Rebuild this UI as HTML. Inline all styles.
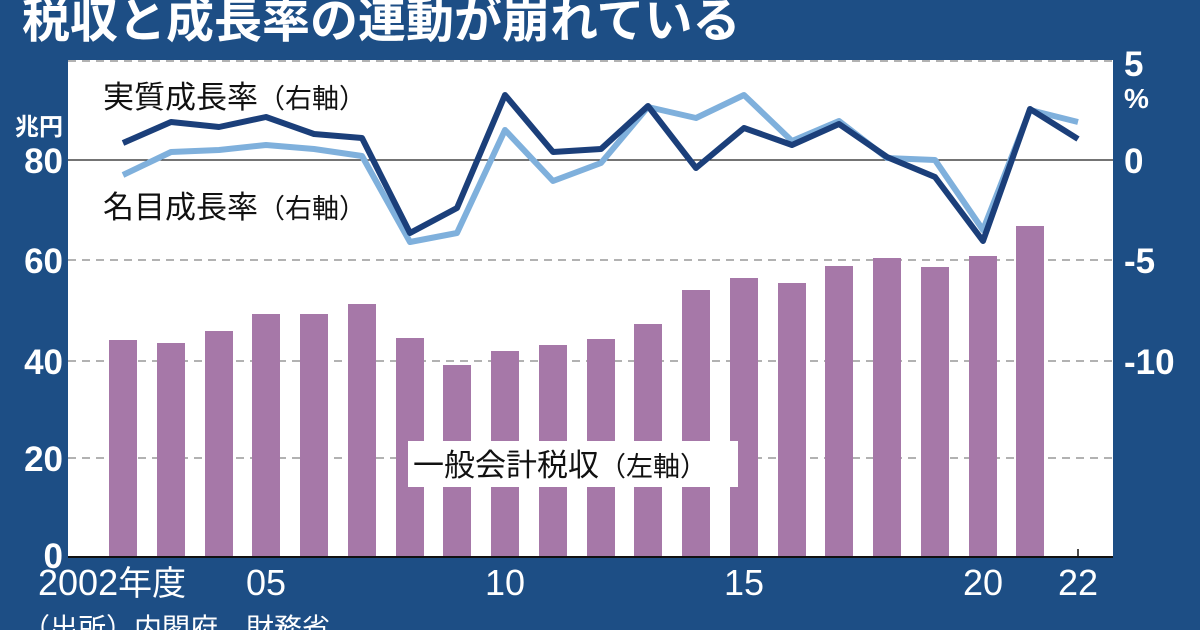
<!DOCTYPE html>
<html><head><meta charset="utf-8"><style>
body{margin:0;width:1200px;height:630px;overflow:hidden;background:#1d4e85;font-family:"Liberation Sans","Noto Sans CJK JP",sans-serif;}
</style></head><body>
<svg width="1200" height="630" xmlns="http://www.w3.org/2000/svg" style="position:absolute;left:0;top:0">
<rect width="1200" height="630" fill="#1d4e85"/>
<text x="22" y="37" fill="#fff" font-size="48" font-weight="bold" font-family="Noto Sans CJK JP,sans-serif">税収と成長率の連動が崩れている</text>
<rect x="68" y="60" width="1045" height="497" fill="#fff"/>
<g stroke="#999" stroke-width="1.5" stroke-dasharray="8,6">
<line x1="68" y1="61" x2="1113" y2="61"/>
<line x1="68" y1="260" x2="1113" y2="260"/>
<line x1="68" y1="361" x2="1113" y2="361"/>
<line x1="68" y1="458" x2="1113" y2="458"/>
</g>
<line x1="68" y1="160" x2="1113" y2="160" stroke="#222" stroke-width="1.2"/>
<g fill="#a678a8">
<rect x="109" y="340" width="28" height="217"/>
<rect x="157" y="343" width="28" height="214"/>
<rect x="205" y="331" width="28" height="226"/>
<rect x="252" y="314" width="28" height="243"/>
<rect x="300" y="314" width="28" height="243"/>
<rect x="348" y="304" width="28" height="253"/>
<rect x="396" y="338" width="28" height="219"/>
<rect x="443" y="365" width="28" height="192"/>
<rect x="491" y="351" width="28" height="206"/>
<rect x="539" y="345" width="28" height="212"/>
<rect x="587" y="339" width="28" height="218"/>
<rect x="634" y="324" width="28" height="233"/>
<rect x="682" y="290" width="28" height="267"/>
<rect x="730" y="278" width="28" height="279"/>
<rect x="778" y="283" width="28" height="274"/>
<rect x="825" y="266" width="28" height="291"/>
<rect x="873" y="258" width="28" height="299"/>
<rect x="921" y="267" width="28" height="290"/>
<rect x="969" y="256" width="28" height="301"/>
<rect x="1016" y="226" width="28" height="331"/>
</g>
<line x1="68" y1="557" x2="1113" y2="557" stroke="#111" stroke-width="2"/>
<line x1="1078" y1="549" x2="1078" y2="557" stroke="#111" stroke-width="1.5"/>
<polyline fill="none" stroke="#7fb0dc" stroke-width="6" stroke-linejoin="round" points="123,175 171,152 219,150 266,145 314,149 362,156 410,242 457,233 505,130 553,181 601,163 648,107 696,118 744,95 792,141 839,121 887,158 935,160 983,230 1030,110 1078,122"/>
<polyline fill="none" stroke="#1b3f7a" stroke-width="6" stroke-linejoin="round" points="123,143 171,122 219,127 266,117 314,134 362,138 410,233 457,208 505,95 553,152 601,149 648,106 696,168 744,128 792,145 839,124 887,157 935,177 983,241 1030,109 1078,139"/>
<g font-family="Noto Sans CJK JP,sans-serif" font-size="31" fill="#111">
<text x="103" y="108">実質成長率<tspan font-size="27">（右軸）</tspan></text>
<text x="103" y="218">名目成長率<tspan font-size="27">（右軸）</tspan></text>
</g>
<rect x="408" y="441" width="330" height="46" fill="#fff"/>
<text x="413" y="476" font-family="Noto Sans CJK JP,sans-serif" font-size="31" fill="#111">一般会計税収<tspan font-size="27">（左軸）</tspan></text>
<g fill="#fff" font-weight="bold" font-size="35" text-anchor="end" font-family="Liberation Sans,sans-serif">
<text x="63" y="173">80</text><text x="63" y="273">60</text><text x="63" y="374">40</text><text x="63" y="471">20</text><text x="63" y="568">0</text>
</g>
<text x="63" y="135" fill="#fff" font-size="24" font-weight="bold" text-anchor="end" font-family="Noto Sans CJK JP,sans-serif">兆円</text>
<g fill="#fff" font-weight="bold" font-size="35" font-family="Liberation Sans,sans-serif">
<text x="1124" y="76">5</text><text x="1124" y="108" font-size="28">%</text>
<text x="1124" y="173">0</text><text x="1124" y="273">-5</text><text x="1124" y="374">-10</text>
</g>
<g fill="#fff" font-size="36" font-family="Liberation Sans,Noto Sans CJK JP,sans-serif">
<text x="38" y="595">2002<tspan font-family="Noto Sans CJK JP,sans-serif" font-size="34">年度</tspan></text>
<text x="266" y="595" text-anchor="middle">05</text>
<text x="505" y="595" text-anchor="middle">10</text>
<text x="744" y="595" text-anchor="middle">15</text>
<text x="983" y="595" text-anchor="middle">20</text>
<text x="1078" y="595" text-anchor="middle">22</text>
</g>
<text x="22" y="638" fill="#fff" font-size="28" font-family="Noto Sans CJK JP,sans-serif">（出所）内閣府、財務省</text>
</svg>
</body></html>
